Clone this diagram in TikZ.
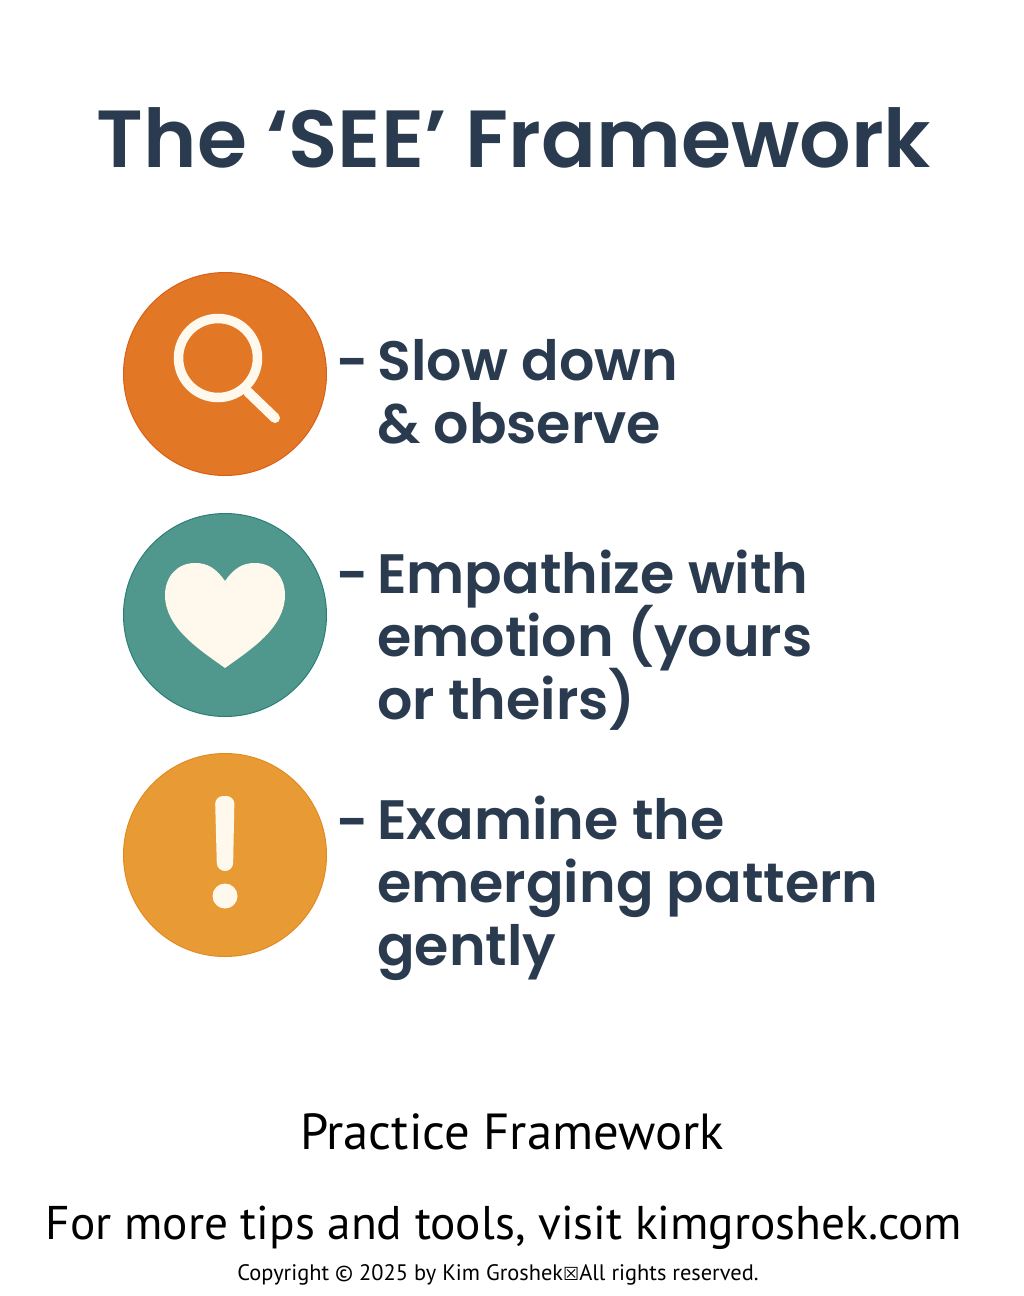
\documentclass[tikz,border=0pt]{standalone}
\usepackage{fontspec}
\usepackage{tikz}
\setmainfont{PT Sans}
\newfontfamily\headfont{Poppins SemiBold}
\newfontfamily\boxfont{DejaVu Sans}
\newcommand{\itemfont}{\headfont\fontsize{55.5}{63}\selectfont\setlength{\lineskiplimit}{-100pt}}
\definecolor{ink}{HTML}{2A3B4F}
\definecolor{cream}{HTML}{FFF8EC}
\definecolor{rust}{HTML}{E27725}
\definecolor{rustedge}{HTML}{D9601A}
\definecolor{teal}{HTML}{50978E}
\definecolor{tealedge}{HTML}{2A7F78}
\definecolor{amber}{HTML}{E89B35}
\definecolor{amberedge}{HTML}{E28A1E}
\begin{document}
\begin{tikzpicture}[x=1pt,y=-1pt]
\useasboundingbox (0,0) rectangle (1024,1296);

\tikzstyle{disc}=[circle,minimum size=203pt,inner sep=0pt,line width=1pt]
\tikzstyle{item}=[anchor=base west,align=left,inner sep=0pt,text=ink,font=\itemfont]
\tikzstyle{foot}=[anchor=base,inner sep=0pt,text=black]

\node[anchor=base,inner sep=0pt,text=ink,font=\headfont\fontsize{81}{81}\selectfont] (title) at (514,167) {The ‘SEE’ Framework};

% orange one
\node[disc,draw=rustedge,fill=rust] (slow) at (225,374) {};
\draw[cream,line width=9.5pt] (218,358) circle (39.5);
\draw[cream,line width=10pt,line cap=round] (248,392) -- (275,418);
\node[item] (slowdash) at (336,381) {-};
\node[item] (slowtext) at (377,443) {Slow down\\\& observe};

% teal one
\node[disc,draw=tealedge,fill=teal] (feel) at (225,615) {};
\fill[cream] (225,581) .. controls (216,568) and (207,563) .. (195,563)
  .. controls (177,563) and (165,577) .. (165,595)
  .. controls (165,628) and (200,650) .. (225,668)
  .. controls (250,650) and (285,628) .. (285,595)
  .. controls (285,577) and (273,563) .. (255,563)
  .. controls (243,563) and (234,568) .. (225,581) -- cycle;
\node[item] (feeldash) at (336,594) {-};
\node[item] (feeltext) at (377,719) {Empathize with\\emotion (yours\\or theirs)};

% amber one
\node[disc,draw=amberedge,fill=amber] (look) at (225,855) {};
\fill[cream,rounded corners=8pt] (215,796) -- (234.5,796) -- (233,871) -- (217,871) -- cycle;
\fill[cream] (225,896) circle (12.5);
\node[item] (lookdash) at (336,841) {-};
\node[item] (looktext) at (377,965) {Examine the\\emerging pattern\\gently};

\node[foot,font=\fontsize{50.7}{50.7}\selectfont] (practice) at (512,1149) {Practice Framework};
\node[foot,font=\fontsize{47.3}{47.3}\selectfont] (visit) at (504,1239) {For more tips and tools, visit kimgroshek.com};
\node[foot,font=\fontsize{22.4}{22.4}\selectfont] (copy) at (498,1280) {Copyright © 2025 by Kim Groshek{\boxfont\fontsize{18}{18}\selectfont ☒}All rights reserved.};
\end{tikzpicture}
\end{document}
